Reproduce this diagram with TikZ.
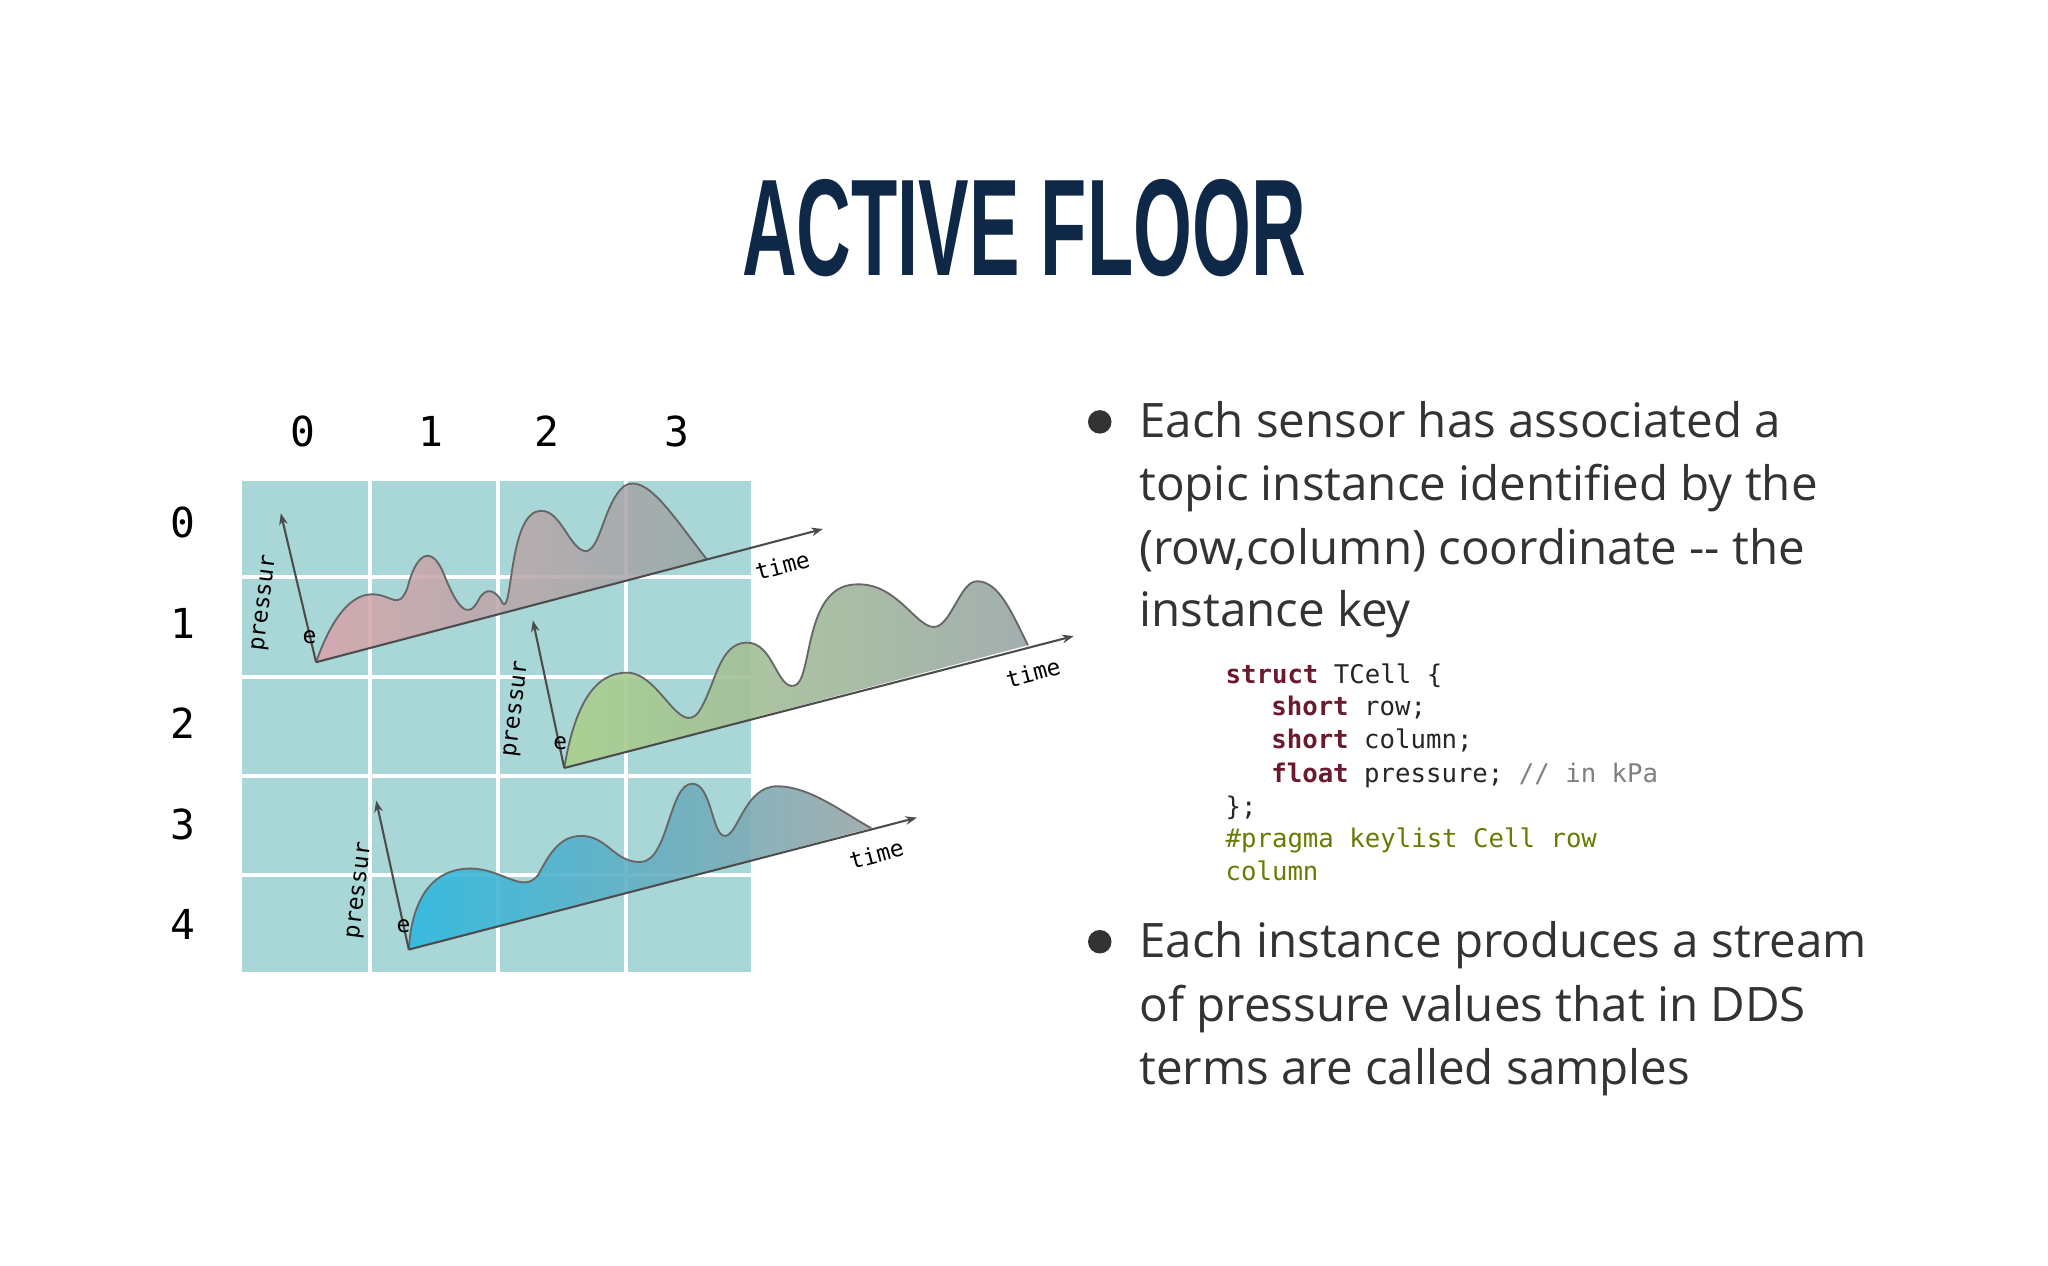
\documentclass[tikz,border=0pt]{standalone}
\usepackage{fontspec}
\setmainfont{Open Sans}
\setmonofont{DejaVu Sans Mono}
\newfontfamily\titlefont{Liberation Sans}
\usetikzlibrary{arrows.meta}
\definecolor{navy}{HTML}{0F2847}
\definecolor{cellc}{HTML}{A9D6D6}
\definecolor{txt}{HTML}{333333}
\definecolor{kw}{HTML}{6B1A2E}
\definecolor{cm}{HTML}{808080}
\definecolor{pr}{HTML}{6B7A00}
\definecolor{pinkw}{HTML}{D9A3AA}
\definecolor{greenw}{HTML}{A9D08C}
\definecolor{bluew}{HTML}{2DB8E0}
\definecolor{greyw}{HTML}{9AA6A6}
\tikzset{
 ax/.style={draw=black!70,line width=0.9pt,-{Stealth[length=5pt]}},
 wave/.style={draw=black!60,line width=0.8pt},
 lab/.style={font=\fontsize{10}{11}\selectfont\ttfamily,text=black},
 body/.style={anchor=base west,font=\fontsize{20.7}{24}\selectfont,text=txt,inner sep=0},
 code/.style={anchor=base west,font=\fontsize{11.2}{13}\selectfont\ttfamily,text=black!85,inner sep=0},
 gl/.style={font=\fontsize{18}{20}\selectfont\ttfamily,text=black}
}
\begin{document}
\begin{tikzpicture}[x=0.02cm,y=-0.02cm]
\useasboundingbox (0,0) rectangle (1568,969);
\fill[white] (0,0) rectangle (1568,969);
\node[anchor=base,inner sep=0] (title) at (784,211) {\scalebox{0.55}[1]{\titlefont\bfseries\fontsize{60}{60}\selectfont\color{navy}ACTIVE FLOOR}};
% grid
\foreach \x/\xx in {185/283,283/381,381/479,479/575}
 \foreach \y/\yy in {368/442,442/518,518/594,594/670,670/744}
  \fill[cellc] (\x,\y) rectangle (\xx,\yy);
\foreach \x in {283,381,479} \draw[white,line width=1.7pt] (\x,368) -- (\x,744);
\foreach \y in {442,518,594,670} \draw[white,line width=1.7pt] (185,\y) -- (575,\y);
\foreach \t/\x in {0/232,1/330,2/419,3/518} \node[gl] (c\t) at (\x,330) {\t};
\foreach \t/\y in {0/400,1/477,2/554,3/631,4/708} \node[gl] (r\t) at (140,\y) {\t};
% wave 1
\coordinate (o1) at (242,507); \coordinate (t1) at (630,405); \coordinate (p1) at (215,393);
\def\wone{(o1) .. controls (255,470) and (270,455) .. (285,455) .. controls (300,455) and (305,468) .. (312,450) .. controls (318,425) and (330,415) .. (340,440) .. controls (350,465) and (358,475) .. (366,460) .. controls (372,448) and (380,452) .. (385,462) .. controls (392,470) and (390,400) .. (410,392) .. controls (428,385) and (435,420) .. (448,422) .. controls (460,422) and (462,385) .. (478,372) .. controls (495,362) and (515,395) .. (541,428)}
\shade[left color=pinkw,right color=greyw,opacity=0.85] \wone -- cycle;
\draw[wave] \wone;
\draw[ax] (o1) -- (t1); \draw[ax] (o1) -- (p1);
\node[lab,rotate=83] (pl1) at (203,462) {pressur}; \node[lab] (e1) at (237,488) {e};
\node[lab,rotate=15] (tl1) at (599,433) {time};
% wave 2
\coordinate (o2) at (432,588); \coordinate (t2) at (822,487); \coordinate (p2) at (408,475);
\def\wtwo{(o2) .. controls (440,540) and (455,515) .. (480,515) .. controls (505,515) and (520,565) .. (535,545) .. controls (548,525) and (550,492) .. (572,492) .. controls (592,492) and (595,528) .. (608,525) .. controls (622,522) and (615,455) .. (650,448) .. controls (685,442) and (700,480) .. (715,480) .. controls (728,480) and (735,445) .. (748,445) .. controls (765,445) and (775,470) .. (787,494)}
\shade[left color=greenw,right color=greyw,opacity=0.9] \wtwo -- cycle;
\draw[wave] \wtwo;
\draw[ax] (o2) -- (t2); \draw[ax] (o2) -- (p2);
\node[lab,rotate=83] (pl2) at (396,543) {pressur}; \node[lab] (e2) at (429,569) {e};
\node[lab,rotate=15] (tl2) at (791,515) {time};
% wave 3
\coordinate (o3) at (313,727); \coordinate (t3) at (702,626); \coordinate (p3) at (288,613);
\def\wthree{(o3) .. controls (315,690) and (330,665) .. (360,665) .. controls (385,665) and (400,685) .. (412,670) .. controls (420,655) and (428,640) .. (445,640) .. controls (465,640) and (470,660) .. (490,660) .. controls (512,660) and (512,600) .. (530,600) .. controls (545,600) and (545,640) .. (555,640) .. controls (565,640) and (570,602) .. (595,602) .. controls (620,602) and (645,622) .. (667,634)}
\shade[left color=bluew,right color=greyw,opacity=0.9] \wthree -- cycle;
\draw[wave] \wthree;
\draw[ax] (o3) -- (t3); \draw[ax] (o3) -- (p3);
\node[lab,rotate=83] (pl3) at (276,682) {pressur}; \node[lab] (e3) at (309,709) {e};
\node[lab,rotate=15] (tl3) at (671,654) {time};
% bullets
\fill[txt] (842,323) circle (9) node (b1) {};
\node[body] (l1) at (872,335) {Each sensor has associated a};
\node[body] (l2) at (872,383) {topic instance identified by the};
\node[body] (l3) at (872,432) {(row,column) coordinate {-}{-} the};
\node[body] (l4) at (872,480) {instance key};
\fill[txt] (842,721) circle (9) node (b2) {};
\node[body] (l5) at (872,733) {Each instance produces a stream};
\node[body] (l6) at (872,782) {of pressure values that in DDS};
\node[body] (l7) at (872,830) {terms are called samples};
% code
\node[code] (k1) at (938,523) {\textcolor{kw}{\bfseries struct} TCell \{};
\node[code] (k2) at (973,548) {\textcolor{kw}{\bfseries short} row;};
\node[code] (k3) at (973,573) {\textcolor{kw}{\bfseries short} column;};
\node[code] (k4) at (973,599) {\textcolor{kw}{\bfseries float} pressure; \textcolor{cm}{// in kPa}};
\node[code] (k5) at (938,624) {\};};
\node[code,text=pr] (k6) at (938,649) {\#pragma keylist Cell row};
\node[code,text=pr] (k7) at (938,674) {column};
\end{tikzpicture}
\end{document}
